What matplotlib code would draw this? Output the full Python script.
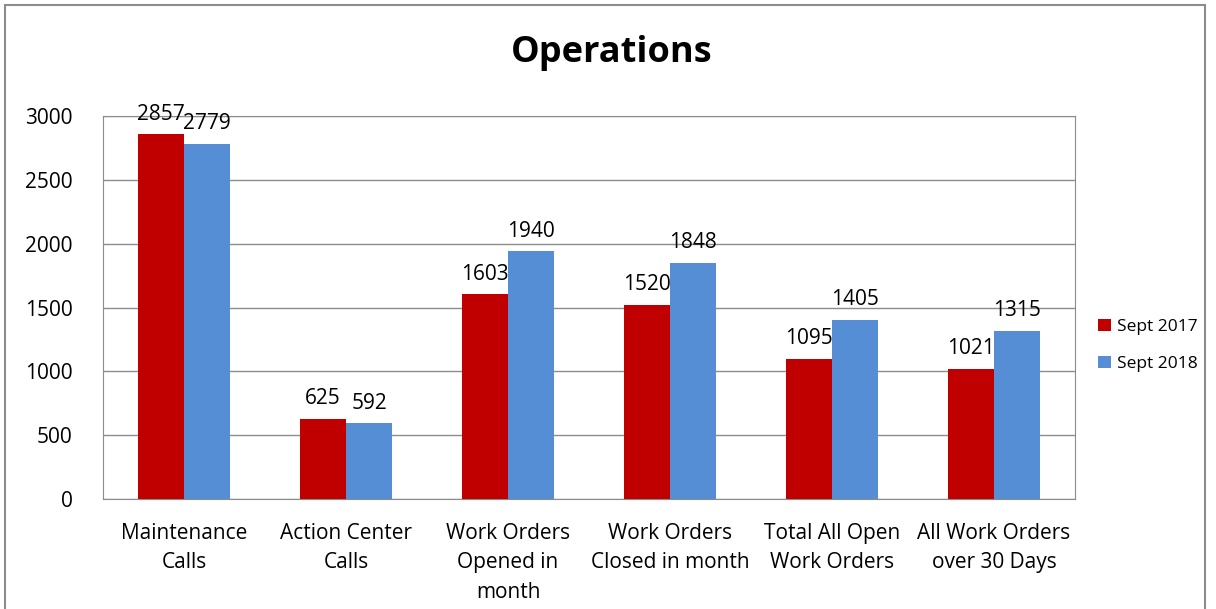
import matplotlib.pyplot as plt
import numpy as np
from matplotlib.patches import Rectangle

categories = ["Maintenance\nCalls", "Action Center\nCalls", "Work Orders\nOpened in\nmonth",
              "Work Orders\nClosed in month", "Total All Open\nWork Orders", "All Work Orders\nover 30 Days"]
sept_2017 = [2857, 625, 1603, 1520, 1095, 1021]
sept_2018 = [2779, 592, 1940, 1848, 1405, 1315]
yticks = [0, 500, 1000, 1500, 2000, 2500, 3000]

plt.rcParams['font.family'] = ['Open Sans', 'DejaVu Sans']

fig = plt.figure(figsize=(12.16, 6.09), dpi=100)
ax = fig.add_axes([103 / 1216, 1 - 499 / 609, 972 / 1216, 383 / 609])

x = np.arange(len(categories))
w = 0.284
b1 = ax.bar(x - w / 2, sept_2017, w, color='#C00000', label='Sept 2017', zorder=3)
b2 = ax.bar(x + w / 2, sept_2018, w, color='#558ED5', label='Sept 2018', zorder=3)

for bars in (b1, b2):
    for r in bars:
        ax.annotate(str(int(r.get_height())), (r.get_x() + r.get_width() / 2, r.get_height()),
                    xytext=(0, 7), textcoords='offset points', ha='center', va='bottom', fontsize=15)

ax.set_xlim(-0.5, len(categories) - 0.5)
ax.set_ylim(0, 3000)
ax.set_yticks(yticks)
ax.set_xticks(x)
ax.set_xticklabels(categories, fontsize=15, linespacing=1.55)
ax.tick_params(axis='both', length=0, labelsize=15)
ax.tick_params(axis='y', pad=22)
ax.tick_params(axis='x', pad=17)
ax.grid(axis='y', color='#8c8c8c', linewidth=1, zorder=0)
for s in ax.spines.values():
    s.set_color('#8c8c8c')

fig.text(612 / 1216, 1 - 53 / 609, 'Operations', ha='center', va='center', fontsize=26, fontweight='bold')

ax.legend(loc='center left', bbox_to_anchor=(1.008, 0.40), frameon=False, fontsize=12.5,
          handlelength=0.7, handleheight=0.7, handletextpad=0.4, labelspacing=1.2)

fig.patches.append(Rectangle((5 / 1216, -0.05), 1200 / 1216, 1.05 - 5 / 609, transform=fig.transFigure,
                             fill=False, edgecolor='#8c8c8c', linewidth=1.5))

fig.savefig('out.png', dpi=100)
